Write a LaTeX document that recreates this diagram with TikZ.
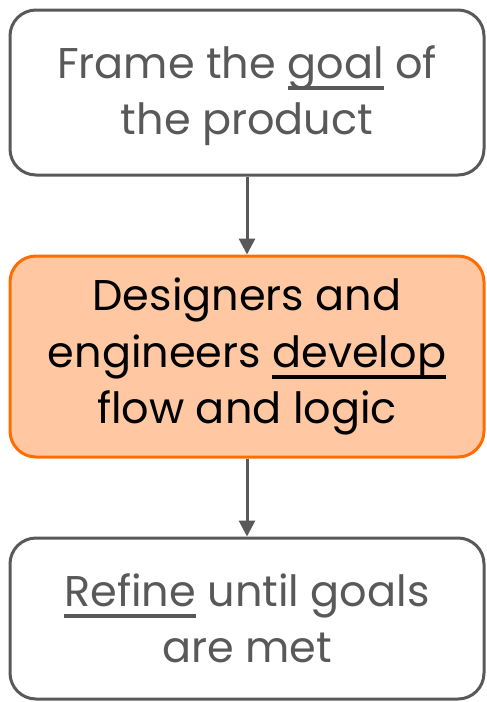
\documentclass[tikz,border=0pt]{standalone}
\usepackage{fontspec}
\setmainfont{Poppins}
\usetikzlibrary{arrows.meta}
\definecolor{boxgray}{HTML}{595959}
\definecolor{txtgray}{HTML}{595959}
\definecolor{orng}{HTML}{FF6D01}
\definecolor{peach}{HTML}{FFC8A2}
\newcommand\myul[1]{\setbox0\hbox{#1}\rlap{\rule[-12pt]{\wd0}{4pt}}\box0\relax}
\tikzset{
  stepbox/.style={draw=boxgray, line width=3pt, rounded corners=26pt, minimum width=474pt,
    align=center, text=txtgray, font=\fontsize{43pt}{56.5pt}\selectfont, inner sep=0pt},
  midbox/.style={stepbox, draw=orng, fill=peach, text=black},
  conn/.style={draw=boxgray, line width=3pt, -{Triangle[width=16pt,length=16pt]}}
}
\begin{document}
\begin{tikzpicture}[x=1pt,y=1pt]
\useasboundingbox (0,0) rectangle (487,-702);
\node[stepbox, minimum height=165pt] (goal) at (247,-92.5) {\raisebox{0pt}[\height][\depth]{}\strut Frame the \myul{goal} of\\the product};
\node[midbox, minimum height=201pt] (dev) at (247,-356.5) {Designers and\\engineers \myul{develop}\\flow and logic};
\node[stepbox, minimum height=161pt] (refine) at (247,-618.5) {\myul{Refine} until goals\\are met};
\draw[conn] (goal.south) -- (dev.north);
\draw[conn] (dev.south) -- (refine.north);
\end{tikzpicture}
\end{document}
